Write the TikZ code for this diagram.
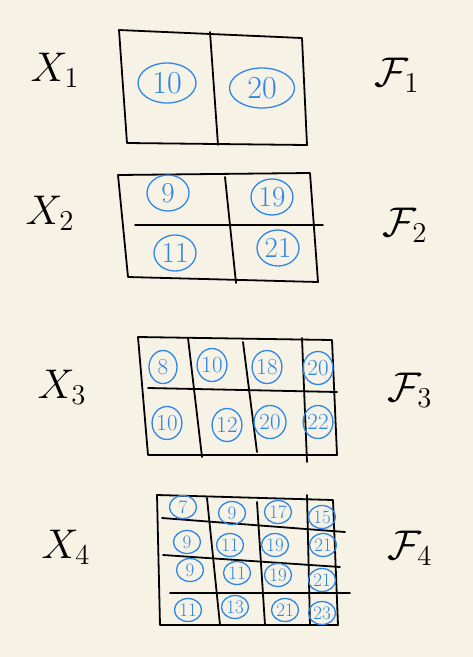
\documentclass[tikz,border=0pt]{standalone}
\usepackage{fontspec}
\usetikzlibrary{shapes.geometric}
\definecolor{paper}{RGB}{246,243,230}
\definecolor{ink}{RGB}{47,134,232}
\tikzset{
  grid/.style={line width=1.8pt,line cap=round,line join=round},
  num/.style={ellipse,draw=ink,text=ink,line width=1.3pt,inner sep=0pt,font=\large},
  numA/.style={num,minimum width=58pt,minimum height=40pt,font=\fontsize{32}{34}\selectfont},
  numB/.style={num,minimum width=42pt,minimum height=36pt,font=\fontsize{29}{31}\selectfont},
  numC/.style={num,minimum width=28pt,minimum height=33pt,font=\fontsize{23}{25}\selectfont},
  numD/.style={num,minimum width=27pt,minimum height=23pt,font=\fontsize{19}{20}\selectfont},
  lab/.style={font=\huge}
}
\newcommand{\biglab}[1]{\scalebox{2}{$#1$}}
\begin{document}
\begin{tikzpicture}[x=1pt,y=-1pt]
   \fill[paper] (0,0) rectangle (473,657);
   \useasboundingbox (0,0) rectangle (473,657);

   % labels
   \node[lab] (x1) at (55,70) {\biglab{X_1}};
   \node[lab] (x2) at (50,213) {\biglab{X_2}};
   \node[lab] (x3) at (62,387) {\biglab{X_3}};
   \node[lab] (x4) at (66,547) {\biglab{X_4}};
   \node[lab] (f1) at (397,75) {\biglab{\mathcal{F}_1}};
   \node[lab] (f2) at (405,225) {\biglab{\mathcal{F}_2}};
   \node[lab] (f3) at (410,390) {\biglab{\mathcal{F}_3}};
   \node[lab] (f4) at (410,548) {\biglab{\mathcal{F}_4}};

   % grid 1
   \draw[grid] (119,30) -- (302,38) -- (307,145) -- (127,143) -- cycle;
   \draw[grid] (210,32) -- (218,145);
   \node[numA] (a1) at (167,83) {10};
   \node[numA,minimum width=65pt] (a2) at (262,88) {20};

   % grid 2
   \draw[grid] (118,175) -- (310,173) -- (318,282) -- (128,277) -- cycle;
   \draw[grid] (135,225) -- (323,225);
   \draw[grid] (225,177) -- (236,283);
   \node[numB] (b1) at (168,193) {9};
   \node[numB] (b2) at (272,197) {19};
   \node[numB] (b3) at (175,253) {11};
   \node[numB] (b4) at (278,248) {21};

   % grid 3
   \draw[grid] (138,337) -- (332,340) -- (337,455) -- (148,455) -- cycle;
   \draw[grid] (148,388) -- (337,392);
   \draw[grid] (188,338) -- (202,457);
   \draw[grid] (243,342) -- (257,452);
   \draw[grid] (302,338) -- (307,462);
   \node[numC] (c1) at (163,367) {8};
   \node[numC] (c2) at (212,365) {10};
   \node[numC] (c3) at (267,367) {18};
   \node[numC] (c4) at (318,368) {20};
   \node[numC] (c5) at (167,423) {10};
   \node[numC] (c6) at (227,425) {12};
   \node[numC,minimum width=32pt] (c7) at (270,422) {20};
   \node[numC] (c8) at (318,422) {22};

   % grid 4
   \draw[grid] (157,495) -- (333,500) -- (338,625) -- (160,625) -- cycle;
   \draw[grid] (162,518) -- (345,532);
   \draw[grid] (163,555) -- (340,567);
   \draw[grid] (170,593) -- (350,593);
   \draw[grid] (207,498) -- (220,625);
   \draw[grid] (257,502) -- (265,625);
   \draw[grid] (307,495) -- (310,625);
   \node[numD] (d1) at (183,507) {7};
   \node[numD] (d2) at (232,513) {9};
   \node[numD] (d3) at (278,512) {17};
   \node[numD] (d4) at (322,517) {15};
   \node[numD] (d5) at (187,542) {9};
   \node[numD] (d6) at (230,545) {11};
   \node[numD] (d7) at (275,545) {19};
   \node[numD] (d8) at (323,545) {21};
   \node[numD] (d9) at (190,570) {9};
   \node[numD] (d10) at (237,573) {11};
   \node[numD] (d11) at (278,575) {19};
   \node[numD] (d12) at (322,580) {21};
   \node[numD] (d13) at (188,610) {11};
   \node[numD] (d14) at (235,607) {13};
   \node[numD] (d15) at (285,610) {21};
   \node[numD] (d16) at (322,613) {23};
  \end{tikzpicture}
\end{document}
